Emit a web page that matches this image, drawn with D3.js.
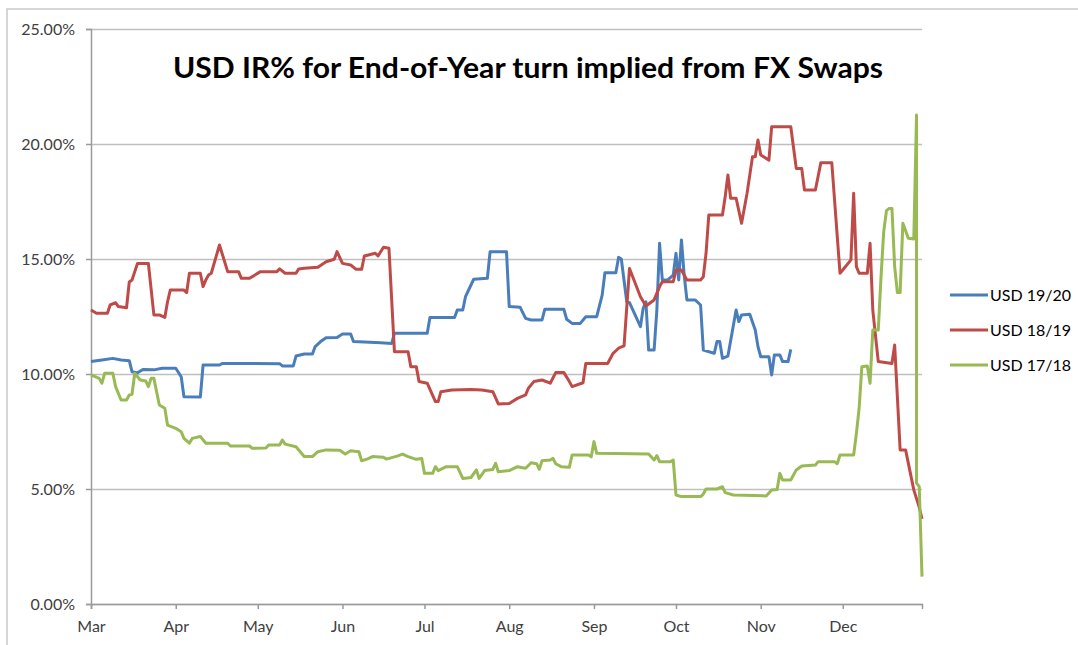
<!DOCTYPE html>
<html>
<head>
<meta charset="utf-8">
<script src="https://d3js.org/d3.v7.min.js"></script>
<style>
  html, body { margin: 0; padding: 0; background: #fff; }
  svg { display: block; font-family: Lato, "Open Sans", sans-serif; }
  .tick text { fill: #404040; }
</style>
</head>
<body>
<svg id="chart" width="1078" height="645"></svg>
<script>

var width = 1078,
    height = 645;

// values, [date MM-DD, rate %]
var seriesNames = ["USD 19/20", "USD 18/19", "USD 17/18"];
var seriesColors = ["#4a7ebb", "#be4b48", "#98b954"];
var yTicks = [0, 5, 10, 15, 20, 25];
var xDomain = ["03-01", "12-30"];

var usd1920 = [
  ["03-01",10.54],["03-05",10.61],["03-09",10.68],["03-12",10.61],["03-15",10.58],["03-16",10.1],
  ["03-18",10.05],["03-20",10.2],["03-24",10.18],["03-27",10.25],["04-01",10.25],["04-03",9.88],
  ["04-04",9.01],["04-10",9.0],["04-11",10.39],["04-17",10.39],["04-18",10.46],["05-09",10.45],
  ["05-10",10.35],["05-14",10.35],["05-15",10.78],["05-18",10.87],["05-21",10.87],["05-22",11.19],
  ["05-24",11.41],["05-26",11.58],["05-30",11.59],["06-01",11.74],["06-04",11.74],["06-05",11.41],
  ["06-15",11.36],["06-19",11.33],["06-20",11.77],["07-02",11.77],["07-03",12.46],["07-12",12.46],
  ["07-13",12.78],["07-15",12.78],["07-16",13.36],["07-19",14.12],["07-24",14.16],["07-25",15.32],
  ["07-31",15.32],["08-01",12.93],["08-05",12.9],["08-07",12.42],["08-09",12.35],["08-13",12.35],
  ["08-14",12.81],["08-21",12.81],["08-22",12.38],["08-24",12.2],["08-27",12.2],["08-29",12.49],
  ["09-02",12.49],["09-04",13.43],["09-05",14.4],["09-09",14.4],["09-10",15.07],["09-11",15.0],
  ["09-13",13.14],["09-14",13.1],["09-18",12.06],["09-19",12.86],["09-20",13.14],["09-21",11.04],
  ["09-23",11.04],["09-24",12.78],["09-25",15.68],["09-26",14.09],["09-28",14.09],["09-30",14.3],
  ["10-01",15.25],["10-02",14.09],["10-03",15.83],["10-04",14.3],["10-05",13.22],["10-08",13.22],
  ["10-10",13.0],["10-11",11.04],["10-15",10.9],["10-16",11.41],["10-17",11.41],["10-18",10.68],
  ["10-20",10.78],["10-23",12.78],["10-24",12.28],["10-25",12.57],["10-28",12.6],["10-30",11.91],
  ["10-31",11.19],["11-01",10.75],["11-04",10.75],["11-05",9.96],["11-06",10.83],["11-08",10.83],
  ["11-09",10.54],["11-11",10.54],["11-12",11.07]
];

var usd1819 = [
  ["03-01",12.78],["03-03",12.64],["03-07",12.64],["03-08",13.0],["03-10",13.1],["03-11",12.93],
  ["03-14",12.88],["03-15",14.0],["03-16",14.09],["03-18",14.8],["03-22",14.8],["03-24",12.57],
  ["03-26",12.57],["03-28",12.46],["03-29",13.14],["03-30",13.65],["04-04",13.65],["04-05",13.54],
  ["04-06",14.38],["04-10",14.38],["04-11",13.8],["04-12",14.09],["04-13",14.3],["04-14",14.38],
  ["04-17",15.61],["04-20",14.45],["04-24",14.45],["04-25",14.16],["04-28",14.16],["05-02",14.45],
  ["05-08",14.45],["05-09",14.57],["05-11",14.38],["05-15",14.38],["05-16",14.57],["05-18",14.6],
  ["05-23",14.64],["05-26",14.88],["05-29",14.99],["05-30",15.32],["06-01",14.81],["06-04",14.74],
  ["06-06",14.55],["06-08",14.55],["06-09",15.13],["06-13",15.25],["06-14",15.13],["06-16",15.51],
  ["06-18",15.47],["06-20",10.97],["06-25",10.97],["06-26",10.32],["06-28",10.32],["06-29",9.67],
  ["07-02",9.6],["07-05",8.8],["07-06",8.8],["07-07",9.23],["07-11",9.3],["07-18",9.33],
  ["07-22",9.3],["07-26",9.23],["07-28",8.7],["08-01",8.72],["08-04",8.94],["08-07",9.09],
  ["08-08",9.38],["08-10",9.67],["08-13",9.74],["08-16",9.6],["08-18",10.06],["08-21",10.06],
  ["08-23",9.67],["08-24",9.45],["08-28",9.62],["08-29",10.46],["09-06",10.46],["09-08",10.9],
  ["09-10",11.12],["09-12",11.22],["09-14",14.59],["09-18",13.36],["09-20",12.96],["09-23",13.22],
  ["09-25",13.8],["09-26",14.01],["09-30",14.01],["10-01",14.52],["10-03",14.52],["10-05",14.09],
  ["10-10",14.09],["10-11",14.23],["10-12",15.25],["10-13",16.91],["10-18",16.91],["10-19",17.71],
  ["10-20",18.65],["10-21",17.64],["10-23",17.64],["10-25",16.55],["10-27",17.86],["10-29",19.45],
  ["10-30",19.45],["10-31",20.17],["11-01",19.52],["11-04",19.3],["11-05",20.75],["11-12",20.75],
  ["11-14",18.94],["11-16",18.94],["11-17",18.0],["11-21",18.0],["11-23",19.19],["11-27",19.19],
  ["11-30",14.38],["12-01",14.52],["12-04",14.96],["12-05",17.86],["12-06",14.67],["12-07",14.38],
  ["12-10",14.38],["12-11",15.68],["12-12",12.78],["12-14",10.54],["12-19",10.46],["12-20",11.26],
  ["12-22",6.7],["12-24",6.7],["12-27",4.96],["12-29",4.2],["12-30",3.7]
];

var usd1718 = [
  ["03-01",9.96],["03-04",9.81],["03-05",9.6],["03-06",10.03],["03-09",10.03],["03-10",9.45],
  ["03-12",8.87],["03-14",8.87],["03-15",9.09],["03-16",9.12],["03-17",10.03],["03-19",9.74],
  ["03-21",9.7],["03-22",9.45],["03-23",9.81],["03-24",9.81],["03-26",8.65],["03-28",8.51],
  ["03-29",7.78],["04-01",7.64],["04-03",7.49],["04-04",7.2],["04-06",6.99],["04-07",7.2],
  ["04-10",7.28],["04-12",6.99],["04-20",6.99],["04-21",6.87],["04-28",6.87],["04-29",6.77],
  ["05-04",6.78],["05-05",6.91],["05-09",6.91],["05-10",7.13],["05-11",6.95],["05-15",6.84],
  ["05-18",6.41],["05-21",6.41],["05-23",6.62],["05-26",6.7],["05-31",6.68],["06-02",6.52],
  ["06-04",6.66],["06-07",6.62],["06-08",6.23],["06-10",6.3],["06-12",6.41],["06-16",6.38],
  ["06-17",6.3],["06-21",6.43],["06-23",6.52],["06-25",6.41],["06-28",6.29],["06-30",6.33],
  ["07-01",5.68],["07-04",5.68],["07-05",5.97],["07-06",5.8],["07-09",5.97],["07-13",5.97],
  ["07-15",5.46],["07-18",5.5],["07-20",5.83],["07-21",5.46],["07-23",5.8],["07-26",5.85],
  ["07-27",6.12],["07-28",5.75],["08-01",5.8],["08-04",5.97],["08-07",5.9],["08-09",6.14],
  ["08-11",6.1],["08-12",5.86],["08-13",6.23],["08-16",6.26],["08-17",6.33],["08-18",6.1],
  ["08-20",5.97],["08-23",5.95],["08-24",6.48],["08-30",6.48],["08-31",6.4],["09-01",7.06],
  ["09-02",6.55],["09-21",6.52],["09-23",6.26],["09-24",6.45],["09-25",6.19],["09-29",6.19],
  ["09-30",6.26],["10-01",4.74],["10-03",4.67],["10-10",4.67],["10-11",4.78],["10-12",5.0],
  ["10-16",5.0],["10-18",5.1],["10-19",4.84],["10-22",4.74],["11-03",4.7],["11-05",4.96],
  ["11-07",4.98],["11-08",5.68],["11-09",5.39],["11-12",5.39],["11-14",5.83],["11-16",6.0],
  ["11-21",6.04],["11-22",6.19],["11-28",6.19],["11-29",6.1],["11-30",6.48],["12-05",6.48],
  ["12-06",7.42],["12-07",8.51],["12-08",10.32],["12-10",10.35],["12-11",9.6],["12-12",11.91],
  ["12-14",11.91],["12-15",14.2],["12-16",16.2],["12-17",17.1],["12-18",17.2],["12-19",17.2],
  ["12-20",14.67],["12-21",13.54],["12-22",13.54],["12-23",16.55],["12-25",15.9],["12-27",15.87],
  ["12-28",21.26],["12-28",5.26],["12-29",5.1],["12-30",1.19]
];

var allSeries = [usd1920, usd1819, usd1718];

var parseDay = d3.timeParse("%m-%d");

var svg = d3.select("#chart");

// outer frame of the screenshot
svg.append("path")
    .attr("d", "M7," + height + "V9H" + width)
    .attr("fill", "none")
    .attr("stroke", "#c9c9c9")
    .attr("stroke-width", 1.5);

var x = d3.scaleTime()
    .domain(xDomain.map(parseDay))
    .range([91, 922]);

var y = d3.scaleLinear()
    .domain([0, 25])
    .range([604, 29]);

// gridlines
svg.append("g")
    .attr("transform", "translate(91,0)")
    .call(d3.axisLeft(y).tickValues(yTicks).tickSize(-(922 - 91)).tickFormat(""))
    .call(function(g) {
        g.select(".domain").remove();
        g.selectAll(".tick line").attr("stroke", "#bfbfbf").attr("stroke-width", 1.5);
    });

// y axis
svg.append("g")
    .attr("transform", "translate(91,0)")
    .call(d3.axisLeft(y).tickValues(yTicks).tickSize(5).tickPadding(11)
        .tickFormat(function(d) { return d3.format(".2%")(d / 100); }))
    .call(function(g) {
        g.select(".domain").attr("stroke", "#9a9a9a").attr("stroke-width", 1.5);
        g.selectAll(".tick line").attr("stroke", "#9a9a9a").attr("stroke-width", 1.5);
        g.selectAll(".tick text").attr("font-size", 16).attr("font-family", "Lato, 'Open Sans', sans-serif");
    });

// x axis
svg.append("g")
    .attr("transform", "translate(0,604)")
    .call(d3.axisBottom(x).ticks(d3.timeMonth.every(1)).tickSize(5).tickPadding(12)
        .tickFormat(d3.timeFormat("%b")))
    .call(function(g) {
        g.select(".domain").attr("stroke", "#9a9a9a").attr("stroke-width", 1.5);
        g.selectAll(".tick line").attr("stroke", "#9a9a9a").attr("stroke-width", 1.5);
        g.selectAll(".tick text").attr("font-size", 16).attr("font-family", "Lato, 'Open Sans', sans-serif");
    });

// lines
var line = d3.line()
    .x(function(d) { return x(parseDay(d[0])); })
    .y(function(d) { return y(d[1]); });

allSeries.forEach(function(data, i) {
    svg.append("path")
        .datum(data)
        .attr("d", line)
        .attr("fill", "none")
        .attr("stroke", seriesColors[i])
        .attr("stroke-width", 3)
        .attr("stroke-linejoin", "round");
});

// title
svg.append("text")
    .attr("x", 528)
    .attr("y", 78)
    .attr("text-anchor", "middle")
    .attr("font-size", 28)
    .attr("font-weight", "bold")
    .attr("fill", "#000")
    .attr("textLength", 710)
    .attr("lengthAdjust", "spacingAndGlyphs")
    .text("USD IR% for End-of-Year turn implied from FX Swaps");

// legend
var legend = svg.append("g").attr("transform", "translate(950,295)");
seriesNames.forEach(function(name, i) {
    var row = legend.append("g").attr("transform", "translate(0," + (i * 35) + ")");
    row.append("line")
        .attr("x1", 0).attr("x2", 38)
        .attr("stroke", seriesColors[i])
        .attr("stroke-width", 3);
    row.append("text")
        .attr("x", 40)
        .attr("dy", "0.35em")
        .attr("font-size", 16)
        .attr("fill", "#000")
        .text(name);
});

</script>
</body>
</html>
